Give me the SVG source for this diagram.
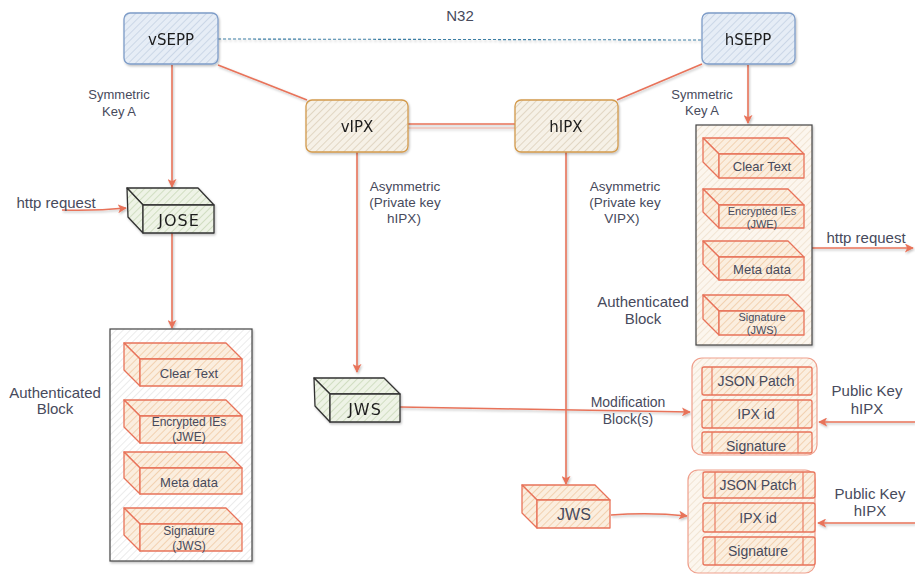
<svg xmlns="http://www.w3.org/2000/svg" width="915" height="576" viewBox="0 0 915 576">
<defs>
<pattern id="pBlue" width="5" height="5" patternUnits="userSpaceOnUse" patternTransform="rotate(45)"><rect width="5" height="5" fill="#e6edf6"/><line x1="0" y1="0" x2="0" y2="5" stroke="#bccbe0" stroke-width="1.3"/></pattern>
<pattern id="pBeige" width="5" height="5" patternUnits="userSpaceOnUse" patternTransform="rotate(45)"><rect width="5" height="5" fill="#f6f1e7"/><line x1="0" y1="0" x2="0" y2="5" stroke="#d6c8b0" stroke-width="1.3"/></pattern>
<pattern id="pGreen" width="5" height="5" patternUnits="userSpaceOnUse" patternTransform="rotate(45)"><rect width="5" height="5" fill="#eef3e6"/><line x1="0" y1="0" x2="0" y2="5" stroke="#c2d3ae" stroke-width="1.3"/></pattern>
<pattern id="pOrange" width="5" height="5" patternUnits="userSpaceOnUse" patternTransform="rotate(45)"><rect width="5" height="5" fill="#fbeedf"/><line x1="0" y1="0" x2="0" y2="5" stroke="#eec196" stroke-width="1.3"/></pattern>
<pattern id="pGrey" width="5" height="5" patternUnits="userSpaceOnUse" patternTransform="rotate(45)"><rect width="5" height="5" fill="#ffffff"/><line x1="0" y1="0" x2="0" y2="5" stroke="#dedede" stroke-width="1.2"/></pattern>
<pattern id="pCream" width="5" height="5" patternUnits="userSpaceOnUse" patternTransform="rotate(45)"><rect width="5" height="5" fill="#fcf6ee"/><line x1="0" y1="0" x2="0" y2="5" stroke="#ead9c2" stroke-width="1.2"/></pattern>
<filter id="sh" x="-10%" y="-10%" width="130%" height="130%"><feDropShadow dx="1" dy="1.5" stdDeviation="0.8" flood-color="#000" flood-opacity="0.25"/></filter>
<marker id="ar" viewBox="0 0 10 10" refX="9" refY="5" markerWidth="9" markerHeight="9" markerUnits="userSpaceOnUse" orient="auto"><path d="M0,0 L10,5 L0,10 L2.5,5 Z" fill="#e8735a"/></marker>
</defs>
<style>
.nd{font-family:"DejaVu Sans",sans-serif;fill:#1e1e1e;text-anchor:middle;dominant-baseline:central}
.lb{font-family:"Liberation Sans",Arial,sans-serif;fill:#474a5c;text-anchor:middle;dominant-baseline:central}
.cn{fill:none;stroke:#e8735a;stroke-width:1.6}
.ob{stroke:#e8735a;stroke-width:1.3;stroke-linejoin:round}
.blue{fill:url(#pBlue);stroke:#7d9cc8;stroke-width:1.3}
.ipx{fill:url(#pBeige);stroke:#d39a4c;stroke-width:1.3}
</style>

<g id="connectors" filter="url(#sh)">
<path d="M218,39 L702,40" fill="none" stroke="#3e7fa5" stroke-width="1.1" stroke-dasharray="3,2"/>
<path class="cn" d="M218,65 L307,100"/>
<path class="cn" d="M408,124 L515,124"/>
<path d="M408,128 L515,128" fill="none" stroke="#e9a898" stroke-width="1"/>
<path class="cn" d="M617,100 L702,64"/>
<path class="cn" d="M172,65 L172,187" marker-end="url(#ar)"/>
<path class="cn" d="M62,210 Q95,211 126,208" marker-end="url(#ar)"/>
<path class="cn" d="M172,233 L172,328" marker-end="url(#ar)"/>
<path class="cn" d="M748,65 L748,123" marker-end="url(#ar)"/>
<path class="cn" d="M812,248 L913,248" marker-end="url(#ar)"/>
<path class="cn" d="M357,152 L357,372" marker-end="url(#ar)"/>
<path class="cn" d="M566,152 L566,484" marker-end="url(#ar)"/>
<path class="cn" d="M400,407 Q540,410 690,412" marker-end="url(#ar)"/>
<path class="cn" d="M915,422 L819,422" marker-end="url(#ar)"/>
<path class="cn" d="M915,523 L818,523" marker-end="url(#ar)"/>
<path class="cn" d="M611,515 Q650,512 687,516" marker-end="url(#ar)"/>
</g>

<g id="vSEPP" filter="url(#sh)"><rect class="blue" x="124" y="13" width="94" height="51" rx="6"/><text class="nd" x="171" y="40" font-size="15">vSEPP</text></g>
<g id="hSEPP" filter="url(#sh)"><rect class="blue" x="702" y="13" width="93" height="51" rx="6"/><text class="nd" x="748" y="40" font-size="15">hSEPP</text></g>
<g id="vIPX" filter="url(#sh)"><rect class="ipx" x="306" y="100" width="102" height="52" rx="6"/><text class="nd" x="357" y="127" font-size="15">vIPX</text></g>
<g id="hIPX" filter="url(#sh)"><rect class="ipx" x="515" y="100" width="103" height="52" rx="6"/><text class="nd" x="566" y="127" font-size="15">hIPX</text></g>

<g id="JOSE" filter="url(#sh)" fill="url(#pGreen)" stroke="#333" stroke-width="1.3" stroke-linejoin="round">
<path d="M127,188 H198 L214,205 H143 Z"/><path d="M127,188 L143,205 V233 L128,217 Z"/><rect x="143" y="205" width="71" height="28"/>
<text class="nd" x="179" y="220" font-size="16" letter-spacing="1" stroke="none">JOSE</text>
</g>

<g id="authLeft">
<rect x="110" y="329" width="142" height="232" fill="url(#pGrey)" stroke="#444" stroke-width="1.2" filter="url(#sh)"/>
<g fill="url(#pOrange)" class="ob">
<path d="M124,343 H226 L242,359 H140 Z"/><path d="M124,343 L140,359 V386 L124,370 Z"/><rect x="140" y="359" width="102" height="27"/>
<path d="M124,400 H226 L242,416 H140 Z"/><path d="M124,400 L140,416 V443 L124,427 Z"/><rect x="140" y="416" width="102" height="27"/>
<path d="M124,452 H226 L242,468 H140 Z"/><path d="M124,452 L140,468 V494 L124,478 Z"/><rect x="140" y="468" width="102" height="26"/>
<path d="M124,508 H226 L242,524 H140 Z"/><path d="M124,508 L140,524 V551 L124,535 Z"/><rect x="140" y="524" width="102" height="27"/>
</g>
<text class="lb" x="189" y="373" font-size="13">Clear Text</text>
<text class="lb" x="189" y="422" font-size="12">Encrypted IEs</text>
<text class="lb" x="189" y="437" font-size="12">(JWE)</text>
<text class="lb" x="189" y="482" font-size="13">Meta data</text>
<text class="lb" x="189" y="531" font-size="12">Signature</text>
<text class="lb" x="189" y="546" font-size="12">(JWS)</text>
</g>

<g id="authRight">
<rect x="696" y="125" width="116" height="220" fill="url(#pCream)" stroke="#444" stroke-width="1.2" filter="url(#sh)"/>
<g fill="url(#pOrange)" class="ob">
<path d="M703,138 H788 L804,154 H719 Z"/><path d="M703,138 L719,154 V178 L703,162 Z"/><rect x="719" y="154" width="85" height="24"/>
<path d="M703,189 H788 L804,205 H719 Z"/><path d="M703,189 L719,205 V228 L703,212 Z"/><rect x="719" y="205" width="85" height="23"/>
<path d="M703,241 H788 L804,257 H719 Z"/><path d="M703,241 L719,257 V280 L703,264 Z"/><rect x="719" y="257" width="85" height="23"/>
<path d="M703,295 H788 L804,311 H719 Z"/><path d="M703,295 L719,311 V335 L703,319 Z"/><rect x="719" y="311" width="85" height="24"/>
</g>
<text class="lb" x="762" y="166" font-size="13">Clear Text</text>
<text class="lb" x="762" y="211" font-size="11">Encrypted IEs</text>
<text class="lb" x="762" y="224" font-size="11">(JWE)</text>
<text class="lb" x="762" y="269" font-size="13">Meta data</text>
<text class="lb" x="762" y="317" font-size="11">Signature</text>
<text class="lb" x="762" y="330" font-size="11">(JWS)</text>
</g>

<g id="JWS1" filter="url(#sh)" fill="url(#pGreen)" stroke="#333" stroke-width="1.3" stroke-linejoin="round">
<path d="M314,378 H384 L400,394 H330 Z"/><path d="M314,378 L330,394 V422 L315,406 Z"/><rect x="330" y="394" width="70" height="28"/>
<text class="nd" x="365" y="409" font-size="16" letter-spacing="1" stroke="none">JWS</text>
</g>

<g id="JWS2" fill="url(#pOrange)" class="ob">
<path d="M522,485 H595 L610,500 H537 Z"/><path d="M522,485 L537,500 V528 L522,513 Z"/><rect x="537" y="500" width="73" height="28"/>
<text class="lb" x="574" y="514" font-size="16" stroke="none" fill="#2a2a3a">JWS</text>
</g>

<g id="mod1">
<rect x="692" y="358" width="125" height="97" rx="10" fill="url(#pCream)" stroke="#ef9f8c" stroke-width="1.2"/>
<g fill="url(#pOrange)" class="ob">
<rect x="702" y="367" width="110" height="28" rx="2"/><rect x="702" y="400" width="110" height="28" rx="2"/><rect x="702" y="432" width="110" height="21" rx="2"/>
</g>
<path d="M712,367 V395 M798,367 V395 M712,400 V428 M798,400 V428 M712,432 V453 M798,432 V453" stroke="#e8735a" stroke-width="1.1"/>
<text class="lb" x="756" y="381" font-size="14">JSON Patch</text>
<text class="lb" x="756" y="414" font-size="14">IPX id</text>
<text class="lb" x="756" y="446" font-size="14">Signature</text>
</g>

<g id="mod2">
<rect x="688" y="470" width="127" height="103" rx="10" fill="url(#pCream)" stroke="#ef9f8c" stroke-width="1.2"/>
<g fill="url(#pOrange)" class="ob">
<rect x="703" y="472" width="112" height="26" rx="2"/><rect x="703" y="503" width="112" height="29" rx="2"/><rect x="703" y="537" width="112" height="28" rx="2"/>
</g>
<path d="M715,472 V498 M803,472 V498 M715,503 V532 M803,503 V532 M715,537 V565 M803,537 V565" stroke="#e8735a" stroke-width="1.1"/>
<text class="lb" x="758" y="485" font-size="14">JSON Patch</text>
<text class="lb" x="758" y="518" font-size="14">IPX id</text>
<text class="lb" x="758" y="551" font-size="14">Signature</text>
</g>

<g id="labels">
<text class="lb" x="460" y="15" font-size="15">N32</text>
<text class="lb" x="119" y="94" font-size="13">Symmetric</text>
<text class="lb" x="119" y="111" font-size="13">Key A</text>
<text class="lb" x="702" y="94" font-size="13">Symmetric</text>
<text class="lb" x="702" y="110" font-size="13">Key A</text>
<text class="lb" x="56" y="202" font-size="15">http request</text>
<text class="lb" x="866" y="237" font-size="15">http request</text>
<text class="lb" x="55" y="392" font-size="15">Authenticated</text>
<text class="lb" x="55" y="408" font-size="15">Block</text>
<text class="lb" x="643" y="301" font-size="15">Authenticated</text>
<text class="lb" x="643" y="318" font-size="15">Block</text>
<text class="lb" x="405" y="186" font-size="13.5">Asymmetric</text>
<text class="lb" x="405" y="202" font-size="13.5">(Private key</text>
<text class="lb" x="404" y="218" font-size="13.5">hIPX)</text>
<text class="lb" x="625" y="186" font-size="13.5">Asymmetric</text>
<text class="lb" x="625" y="202" font-size="13.5">(Private key</text>
<text class="lb" x="622" y="218" font-size="13.5">VIPX)</text>
<text class="lb" x="628" y="402" font-size="14">Modification</text>
<text class="lb" x="628" y="419" font-size="14">Block(s)</text>
<text class="lb" x="867" y="390" font-size="15">Public Key</text>
<text class="lb" x="867" y="408" font-size="15">hIPX</text>
<text class="lb" x="870" y="493" font-size="15">Public Key</text>
<text class="lb" x="870" y="510" font-size="15">hIPX</text>
</g>
</svg>
